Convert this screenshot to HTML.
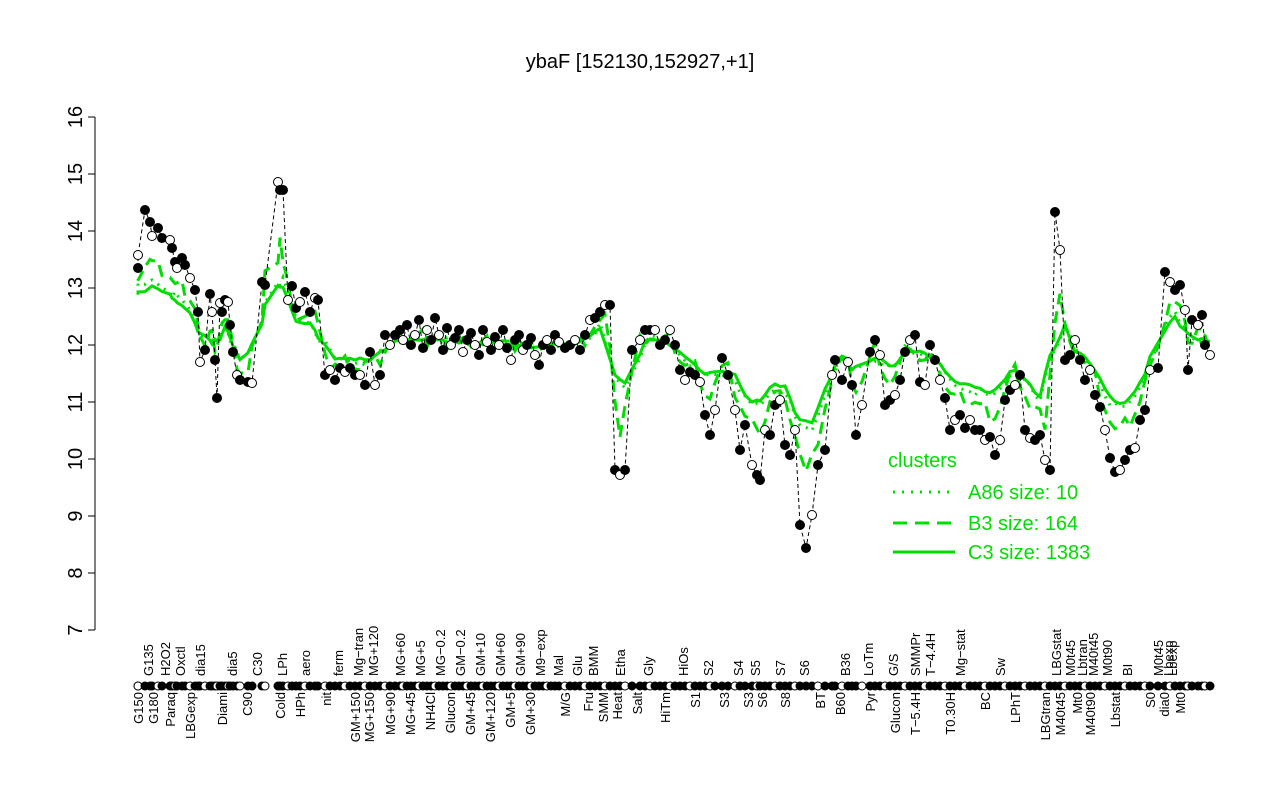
<!DOCTYPE html>
<html><head><meta charset="utf-8"><style>body{margin:0;background:#fff}svg{display:block}text{font-family:"Liberation Sans",sans-serif}</style></head>
<body>
<svg id="s" width="1280" height="800" xmlns="http://www.w3.org/2000/svg">
<text x="640" y="68" font-size="20" text-anchor="middle">ybaF [152130,152927,+1]</text>
<g id="ax" stroke="#000" stroke-width="1"></g>
<g id="g"></g>
<g font-size="20" fill="#00dd00">
<text x="888" y="467">clusters</text>
<line x1="893" y1="492" x2="955" y2="492" stroke="#00dd00" stroke-width="3" stroke-dasharray="2,7"/>
<text x="968" y="499">A86 size: 10</text>
<line x1="893" y1="523" x2="955" y2="523" stroke="#00dd00" stroke-width="3" stroke-dasharray="14,8"/>
<text x="968" y="530">B3 size: 164</text>
<line x1="893" y1="552" x2="955" y2="552" stroke="#00dd00" stroke-width="3"/>
<text x="968" y="559">C3 size: 1383</text>
</g>
</svg>
<script>
const NS="http://www.w3.org/2000/svg",S=document.getElementById('s'),G=document.getElementById('g'),AX=document.getElementById('ax');
function el(p,t,a,txt){const e=document.createElementNS(NS,t);for(const k in a)e.setAttribute(k,a[k]);if(txt)e.textContent=txt;p.appendChild(e);return e;}
el(AX,'line',{x1:95,y1:117,x2:95,y2:630});
for(let v=7;v<=16;v++){const y=630-(v-7)*57;el(AX,'line',{x1:88,y1:y,x2:95,y2:y});
el(S,'text',{x:0,y:0,'font-size':20,'text-anchor':'middle',transform:`translate(82,${y}) rotate(-90)`},String(v));}
let P=[[138,268],[138,255],[145,210],[150,222],[152,236],[158,228],[162,238],[170,240],[172,248],[175,262],[177,268],[182,258],[185,265],[190,278],[195,290],[198,312],[200,362],[205,350],[210,294],[212,312],[215,360],[217,398],[220,303],[222,312],[225,300],[228,302],[230,325],[233,352],[237,375],[240,380],[248,382],[252,383],[262,282],[265,285],[278,182],[280,190],[283,190],[288,300],[292,286],[296,308],[300,302],[305,292],[310,312],[315,298],[318,300],[325,375],[330,370],[335,380],[340,368],[345,372],[350,368],[355,375],[360,375],[365,385],[370,352],[375,385],[380,375],[385,335],[390,345],[395,335],[400,330]];
const mid=[340,325,345,335,320,348,330,340,318,335,350,328,345,338,330,352,340,333,345,355,330,342,350,337,345,330,348,360,340,335,350,345,338,355,365,345,340,350,335,342];
for(let i=0;i<mid.length;i++)P.push([403+i*4,mid[i]]);
P=P.concat([[565,348],[570,345],[575,340],[580,350],[585,335],[590,320],[595,318],[600,312],[605,305],[610,305],[615,470],[620,475],[625,470],[632,350],[640,340],[645,330],[650,330],[655,330],[660,345],[665,340],[670,330],[675,345],[680,370],[685,380],[690,372],[695,375],[700,382],[705,415],[710,435],[715,410],[722,358],[728,375],[735,410],[740,450],[745,425],[752,465],[757,475],[760,480],[765,430],[770,435],[775,405],[780,400],[785,445],[790,455],[795,430],[800,525],[806,548],[812,515],[818,465],[825,450],[832,375],[835,360],[842,380],[848,362],[852,385],[856,435],[862,405],[870,352],[875,340],[880,355],[885,405],[890,400],[895,395],[900,380],[905,352],[910,340],[915,335],[920,382],[925,385],[930,345],[935,360],[940,380],[945,398],[950,430],[955,420],[960,415],[965,428],[970,420],[975,430],[980,430],[985,440],[990,437],[995,455],[1000,440],[1005,400],[1010,390],[1015,385],[1020,375],[1025,430],[1030,438],[1035,440],[1040,435],[1045,460],[1050,470],[1055,212],[1060,250],[1065,360],[1070,355],[1075,340],[1080,360],[1085,380],[1090,370],[1095,395],[1100,407],[1105,430],[1110,458],[1115,472],[1120,470],[1125,460],[1130,450],[1135,448],[1140,420],[1145,410],[1150,370],[1158,368],[1165,272],[1170,282],[1175,290],[1180,285],[1185,310],[1188,370],[1192,320],[1198,325],[1202,315],[1205,345],[1210,355]]);
function sm(i,w){let s=0,n=0;for(let j=i-w;j<=i+w;j++)if(P[j]){s+=P[j][1];n++;}return s/n;}
function line(f,attrs){let d='';P.forEach((p,i)=>{d+=(i?'L':'M')+p[0]+','+f(i).toFixed(1);});el(G,'path',Object.assign({d:d,fill:'none',stroke:'#00dd00','stroke-width':3},attrs));}
line(i=>345+0.55*(sm(i,2)-345)+((i*37)%9-4),{'stroke-dasharray':'2,6'});
line(i=>345+0.7*(sm(i,1)-345)+((i*53)%11-5)*1.5,{'stroke-dasharray':'12,7'});
line(i=>345+0.5*(sm(i,2)-345),{});
let d='';P.forEach((p,i)=>d+=(i?'L':'M')+p[0]+','+p[1]);
el(G,'path',{d:d,fill:'none',stroke:'#000','stroke-width':1,'stroke-dasharray':'4,3'});
P.forEach((p,i)=>{el(G,'circle',{cx:p[0],cy:p[1],r:4.5,fill:(i%3==1)?'#fff':'#000',stroke:'#000','stroke-width':1});
el(G,'circle',{cx:p[0],cy:686,r:4,fill:(i%4==1)?'#fff':'#000',stroke:'#000'});});
const up=[[148,'G135'],[165,'H2O2'],[180,'Oxctl'],[200,'dia15'],[232,'dia5'],[257,'C30'],[282,'LPh'],[305,'aero'],[338,'ferm'],[358,'Mg−tran'],[373,'MG+120'],[400,'MG+60'],[420,'MG+5'],[440,'MG−0.2'],[460,'GM−0.2'],[480,'GM+10'],[500,'GM+60'],[520,'GM+90'],[540,'M9−exp'],[558,'Mal'],[577,'Glu'],[593,'BMM'],[620,'Etha'],[648,'Gly'],[683,'HiOs'],[708,'S2'],[738,'S4'],[755,'S5'],[780,'S7'],[804,'S6'],[845,'B36'],[868,'LoTm'],[893,'G/S'],[915,'SMMPr'],[930,'T−4.4H'],[960,'Mg−stat'],[1000,'Sw'],[1056,'LBGstat'],[1070,'M0t45'],[1082,'Lbtran'],[1093,'M40t45'],[1107,'M0t90'],[1127,'BI'],[1158,'M0t45'],[1168,'Lbexp'],[1172,'Lbexp']];
const lo=[[138,'G150'],[153,'G180'],[170,'Paraq'],[190,'LBGexp'],[222,'Diami'],[247,'C90'],[280,'Cold'],[300,'HPh'],[326,'nit'],[355,'GM+150'],[369,'MG+150'],[390,'MG+90'],[410,'MG+45'],[430,'NH4Cl'],[450,'Glucon'],[470,'GM+45'],[490,'GM+120'],[510,'GM+5'],[530,'GM+30'],[565,'M/G'],[588,'Fru'],[603,'SMM'],[617,'Heat'],[637,'Salt'],[665,'HiTm'],[695,'S1'],[724,'S3'],[748,'S3'],[762,'S6'],[785,'S8'],[820,'BT'],[840,'B60'],[870,'Pyr'],[895,'Glucon'],[915,'T−5.4H'],[950,'T0.30H'],[985,'BC'],[1015,'LPhT'],[1045,'LBGtran'],[1060,'M40t45'],[1077,'Mt0'],[1090,'M40t90'],[1115,'Lbstat'],[1150,'S0'],[1164,'dia0'],[1180,'Mt0']];
up.forEach(([x,t])=>el(S,'text',{x:0,y:0,'font-size':13,'text-anchor':'start',transform:`translate(${x+5},676) rotate(-90)`},t));
lo.forEach(([x,t])=>el(S,'text',{x:0,y:0,'font-size':13,'text-anchor':'end',transform:`translate(${x+5},692) rotate(-90)`},t));
</script>
</body></html>
